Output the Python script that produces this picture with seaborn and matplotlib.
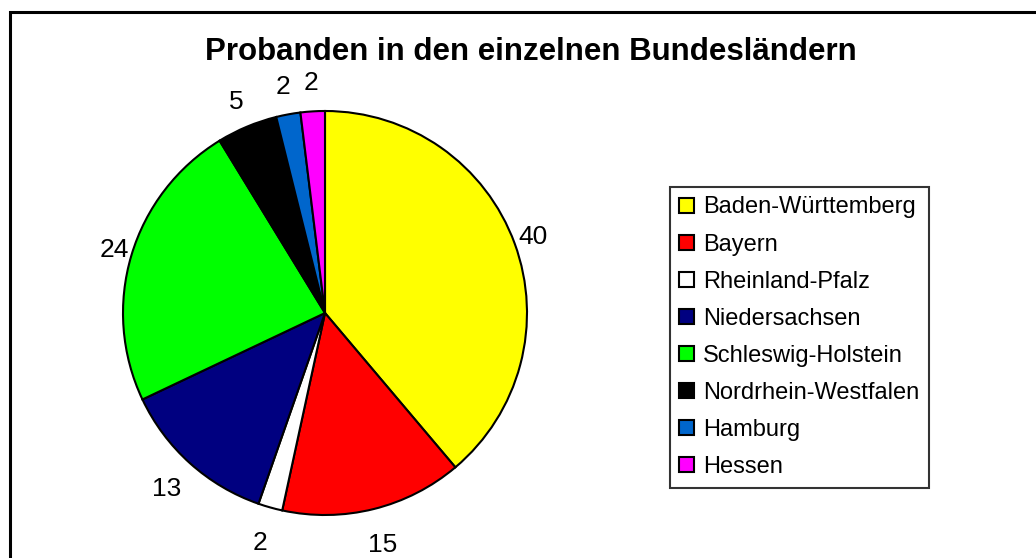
import matplotlib
matplotlib.use("Agg")
import numpy as np
import matplotlib.pyplot as plt
import seaborn as sns
from matplotlib.patches import Rectangle

# Data
states = ["Baden-Württemberg", "Bayern", "Rheinland-Pfalz", "Niedersachsen",
          "Schleswig-Holstein", "Nordrhein-Westfalen", "Hamburg", "Hessen"]
counts = [40, 15, 2, 13, 24, 5, 2, 2]
colors = ["#FFFF00", "#FF0000", "#FFFFFF", "#000080",
          "#00FF00", "#000000", "#0066CC", "#FF00FF"]

sns.set_theme(style="white")
plt.rcParams["font.family"] = ["Liberation Sans", "DejaVu Sans"]
plt.rcParams["text.color"] = "black"

fig = plt.figure(figsize=(10.36, 5.58), dpi=100)

# outer chart frame (right and bottom edges run off the picture)
fig.patches.append(Rectangle((10 / 1036, -0.05), 1.2, 1 - 12 / 558 + 0.05,
                             transform=fig.transFigure, fill=False,
                             edgecolor="black", linewidth=2.2))

ax = fig.add_axes([(325 - 202) / 1036, (558 - 313 - 202) / 558,
                   404 / 1036, 404 / 558])
wedges, texts = ax.pie(counts, labels=[str(c) for c in counts], colors=colors,
                       startangle=90, counterclock=False, labeldistance=1.0,
                       wedgeprops=dict(edgecolor="black", linewidth=1.5),
                       textprops=dict(fontsize=19, color="black"))
# push labels out a bit more above/below the pie than at its sides
for t in texts:
    x, y = t.get_position()
    ang = np.arctan2(y, x)
    s = np.sin(ang)
    r = 1.07 + 0.07 * s if s > 0 else 1.14 + 0.045 * abs(s)
    t.set_position((r * np.cos(ang), r * s))
    t.set_ha("center")
    t.set_va("center")
ax.set_xlim(-1, 1)
ax.set_ylim(-1, 1)
ax.set_aspect("equal")

fig.text(531 / 1036, 1 - 52 / 558, "Probanden in den einzelnen Bundesländern",
         ha="center", va="center", fontsize=22.5, fontweight="bold", color="black")

leg = fig.legend(wedges, states, loc="upper left",
                 bbox_to_anchor=(670 / 1036, 1 - 187 / 558),
                 frameon=True, fancybox=False, shadow=False, fontsize=17,
                 handlelength=0.6, handleheight=0.6, handletextpad=0.4,
                 labelspacing=0.64, borderpad=0.4, borderaxespad=0,
                 labelcolor="black")
leg.get_frame().set_edgecolor("black")
leg.get_frame().set_linewidth(1.5)

fig.savefig("out.png", dpi=100)
